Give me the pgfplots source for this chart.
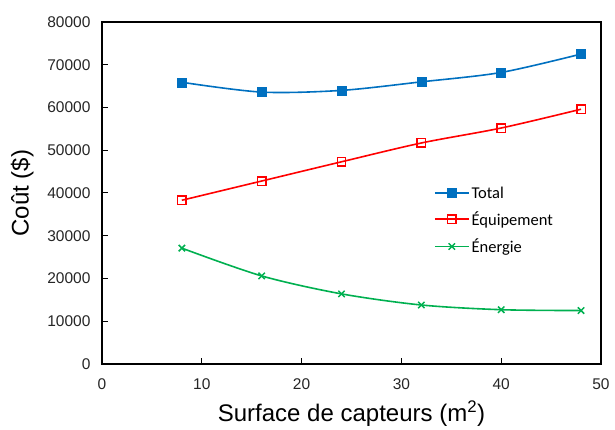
\documentclass[border=0pt]{standalone}
\usepackage{pgfplots}
\pgfplotsset{compat=1.18}
\usepackage{fontspec}
\setmainfont{Liberation Sans}
\newfontfamily\calibri{Carlito}
\definecolor{cblue}{HTML}{0070C0}
\definecolor{cred}{HTML}{FF0000}
\definecolor{cgreen}{HTML}{00B050}
\begin{document}
\begin{tikzpicture}
\begin{axis}[
  scale only axis,
  width=499pt, height=342pt,
  xmin=0, xmax=50, ymin=0, ymax=80000,
  xtick={0,10,20,30,40,50},
  ytick={0,10000,20000,30000,40000,50000,60000,70000,80000},
  scaled y ticks=false,
  /pgf/number format/assume math mode=true,
  /pgf/number format/1000 sep={},
  tick label style={font=\fontsize{15.5}{17}\selectfont, color=black!85},
  xticklabel style={yshift=-11pt},
  yticklabel style={xshift=-8pt},
  tick align=inside,
  xtick pos=bottom, ytick pos=left,
  major tick length=6pt,
  axis line style={line width=1.3pt},
  every tick/.style={black, line width=1pt},
  xlabel={Surface de capteurs (m\textsuperscript{2})},
  ylabel={Coût (\$)},
  xlabel style={font=\fontsize{24}{26}\selectfont, at={(axis description cs:0.5,-0.145)}, anchor=center},
  ylabel style={font=\fontsize{24}{26}\selectfont, at={(axis description cs:-0.16,0.5)}, anchor=center},
  clip=false,
  legend style={draw=none, fill=none, at={(axis description cs:0.665,0.525)}, anchor=north west,
    font=\calibri\fontsize{16.5}{18}\selectfont, row sep=8pt, inner sep=0pt},
  legend cell align=left,
  legend image code/.code={\draw[mark repeat=2,mark phase=2] plot coordinates {(0pt,0pt) (17pt,0pt) (34pt,0pt)};},
]
\addplot[cblue, line width=1.6pt, smooth, tension=0.5, mark=square*, mark size=4.5pt, mark options={solid, fill=cblue, line width=0.5pt}]
  coordinates {(8,65900) (16,63600) (24,64000) (32,66000) (40,68200) (48,72500)};
\addlegendentry{Total}
\addplot[cred, line width=1.6pt, smooth, tension=0.5, mark=square, mark size=4.2pt, mark options={solid, fill=white, line width=1.4pt}]
  coordinates {(8,38300) (16,42800) (24,47300) (32,51700) (40,55200) (48,59600)};
\addlegendentry{Équipement}
\addplot[cgreen, line width=1.6pt, smooth, tension=0.5, mark=x, mark size=4.5pt, mark options={solid, line width=1.5pt}]
  coordinates {(8,27100) (16,20600) (24,16400) (32,13800) (40,12700) (48,12500)};
\addlegendentry{Énergie}
\coordinate (SW) at (rel axis cs:0,0);
\coordinate (NE) at (rel axis cs:1,1);
\end{axis}
\path ([shift={(-102pt,-63pt)}]SW) rectangle ([shift={(14pt,22pt)}]NE);
\end{tikzpicture}
\end{document}
